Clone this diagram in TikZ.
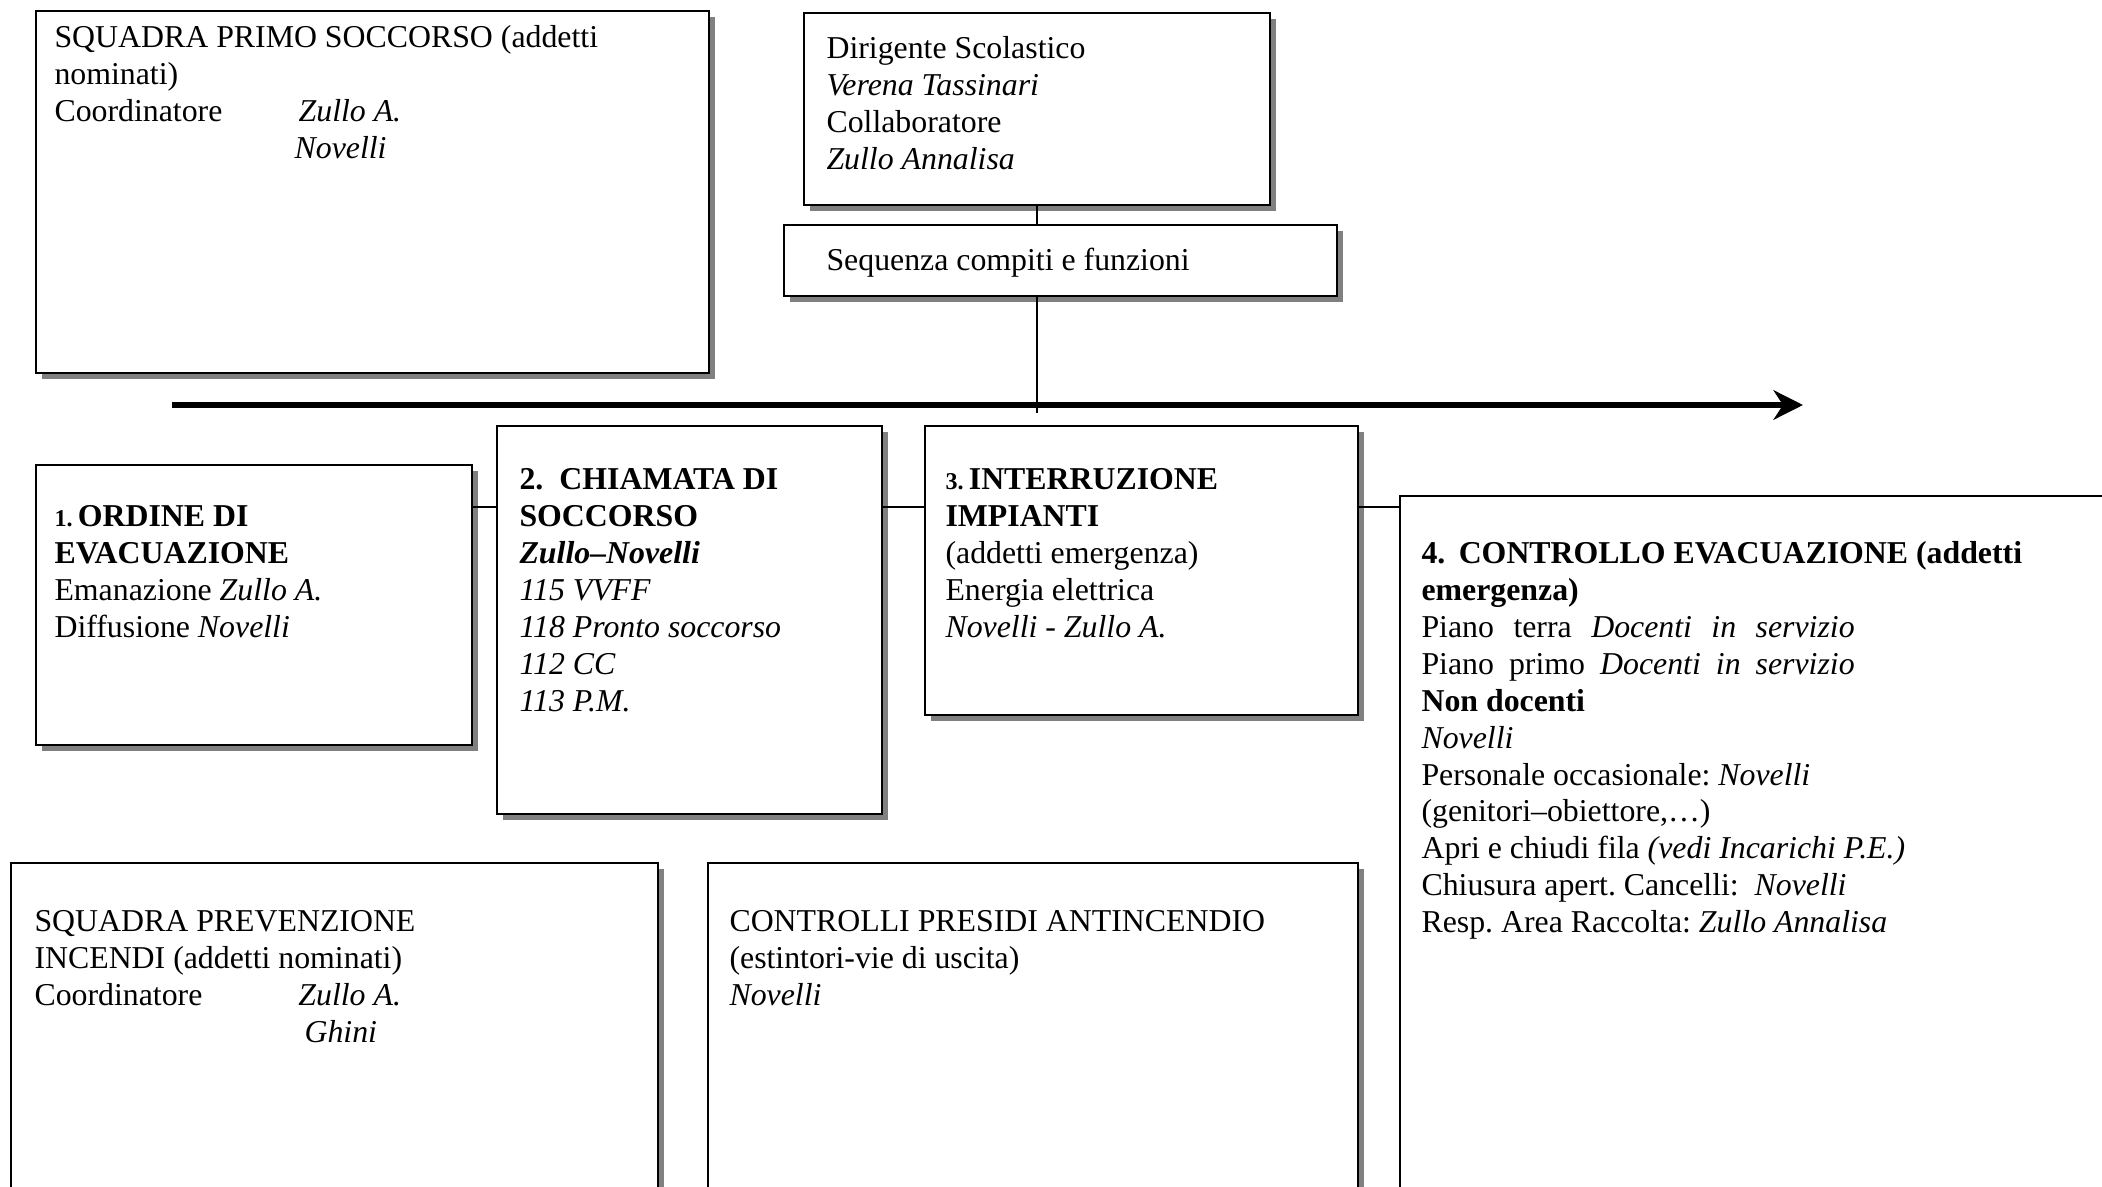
\documentclass[tikz,border=0pt]{standalone}
\usepackage{fontspec}
\setmainfont{Liberation Serif}
\usetikzlibrary{arrows.meta,fit,shadows}
\frenchspacing
\tikzset
{
    infobox/.style = {rectangle, draw=black, line width=0.8pt, fill=white, inner sep=0pt, drop shadow={shadow xshift=2.2pt, shadow yshift=-2.2pt, fill=black!50, opacity=1}},
    boxtext/.style = {anchor=north west, align=left, inner sep=0pt, font=\fontsize{11.9pt}{13.8pt}\selectfont},
    link/.style    = {draw=black, line width=0.6pt},
    timeline/.style = {line width=2pt, -{Stealth[length=11pt, width=11pt, inset=3.5pt]}}
}

\begin{document}
\begin{tikzpicture}[x=0.374pt, y=-0.374pt]
\useasboundingbox (0,0) rectangle (2102,1187);
% top boxes
\node[infobox, fit={(36,11) (709,373)}] (sps) {};
\node[infobox, fit={(804,13) (1270,205)}] (dir) {};
\node[infobox, fit={(784,225) (1337,296)}] (seq) {};
% steps
\node[infobox, fit={(36,465) (472,745)}] (b1) {};
\node[infobox, fit={(497,426) (882,814)}] (b2) {};
\node[infobox, fit={(925,426) (1358,715)}] (b3) {};
\node[infobox, fit={(1400,496) (2140,1230)}] (b4) {};
% bottom boxes
\node[infobox, fit={(11,863) (658,1230)}] (spi) {};
\node[infobox, fit={(708,863) (1358,1230)}] (cpa) {};

\node[boxtext] (spstext) at (54,25) {SQUADRA PRIMO SOCCORSO (addetti\\ nominati)\\ \makebox[91.3pt][l]{Coordinatore}\textit{Zullo A.}\\ \hspace*{89.8pt}\textit{Novelli}};
\node[boxtext] (dirtext) at (826,36) {Dirigente Scolastico\\ \textit{Verena Tassinari}\\ Collaboratore\\ \textit{Zullo Annalisa}};
\node[boxtext] (seqtext) at (826,248) {Sequenza compiti e funzioni};

\node[boxtext] (b1text) at (54,505) {\textbf{{\small 1.}\,ORDINE DI}\\ \textbf{EVACUAZIONE}\\ Emanazione \textit{Zullo A.}\\ Diffusione \textit{Novelli}};
\node[boxtext] (b2text) at (519,468) {\textbf{2.\hspace{6pt}CHIAMATA DI}\\ \textbf{SOCCORSO}\\ \textbf{\textit{Zullo–Novelli}}\\ \textit{115 VVFF}\\ \textit{118 Pronto soccorso}\\ \textit{112 CC}\\ \textit{113 P.M.}};
\node[boxtext] (b3text) at (945,468) {\textbf{{\small 3.}\,INTERRUZIONE}\\ \textbf{IMPIANTI}\\ (addetti emergenza)\\ Energia elettrica\\ \textit{Novelli - Zullo A.}};
\node[boxtext] (b4text) at (1421,541) {\textbf{4.\hspace{5pt}CONTROLLO EVACUAZIONE (addetti}\\ \textbf{emergenza)}\\ \makebox[162pt][s]{Piano terra \textit{Docenti in servizio}}\\ \makebox[162pt][s]{Piano primo \textit{Docenti in servizio}}\\ \textbf{Non docenti}\\ \textit{Novelli}\\ Personale occasionale: \textit{Novelli}\\ (genitori–obiettore,…)\\ Apri e chiudi fila \textit{(vedi Incarichi P.E.)}\\ Chiusura apert. Cancelli:\ \ \textit{Novelli}\\ Resp. Area Raccolta: \textit{Zullo Annalisa}};

\node[boxtext] (spitext) at (34,910) {SQUADRA PREVENZIONE\\ INCENDI (addetti nominati)\\ \makebox[98.7pt][l]{Coordinatore}\textit{Zullo A.}\\ \hspace*{101pt}\textit{Ghini}};
\node[boxtext] (cpatext) at (729,910) {CONTROLLI PRESIDI ANTINCENDIO\\ (estintori-vie di uscita)\\ \textit{Novelli}};

% time line
\coordinate (tl0) at (172,405);
\coordinate (tl1) at (1803,405);
\coordinate (lk) at (0,507);
\draw[timeline] (tl0) -- (tl1);
\draw[link] (dir.south) -- (dir.south |- seq.north);
\draw[link, shorten >=-3pt] (dir.south |- seq.south) -- (dir.south |- tl0);
\draw[link] (b1.east |- lk) -- (b2.west |- lk);
\draw[link] (b2.east |- lk) -- (b3.west |- lk);
\draw[link] (b3.east |- lk) -- (b4.west |- lk);
\end{tikzpicture}
\end{document}
